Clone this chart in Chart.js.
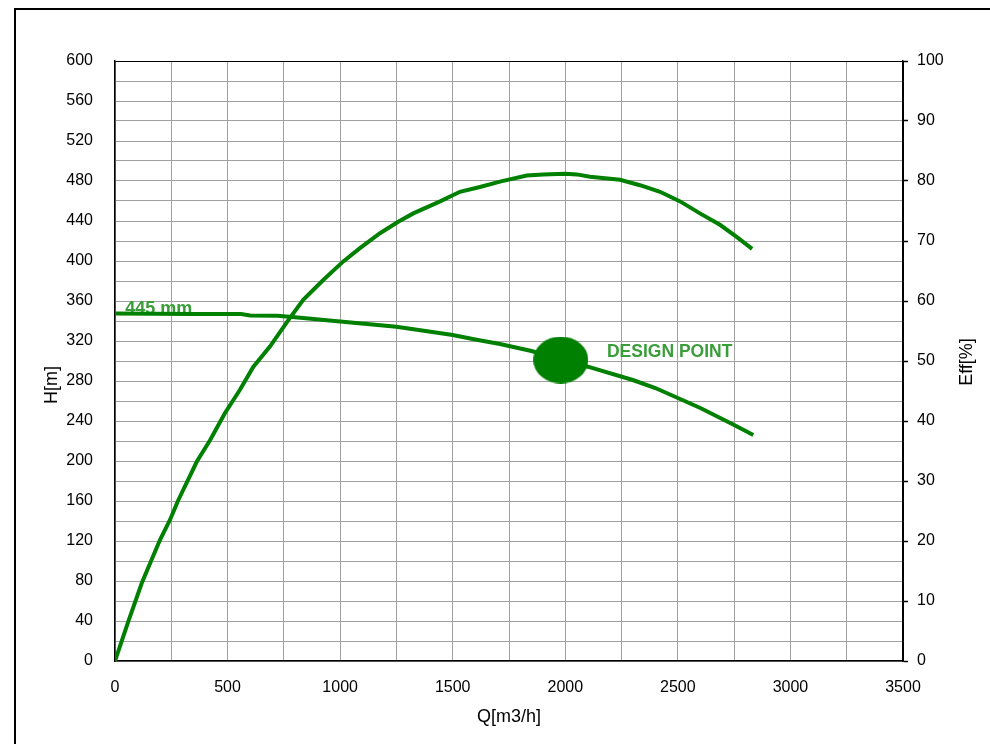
<!DOCTYPE html>
<html>
<head>
<meta charset="utf-8">
<title>Pump curve</title>
<script src="https://cdn.jsdelivr.net/npm/chart.js@4.4.1/dist/chart.umd.min.js"></script>
<style>
  html, body { margin: 0; padding: 0; background: #ffffff; }
  canvas { display: block; }
</style>
</head>
<body>
<canvas id="pump" width="990" height="744"></canvas>
<script>
// Head curve for the 445 mm impeller: flow [m3/h] and head [m]
const headFlow = [0, 350, 560, 600, 720, 800, 1000, 1250, 1500, 1600, 1710, 1850, 1980, 2100, 2300, 2400, 2510, 2600, 2750, 2835];
const headValues = [347.5, 347, 347, 345.5, 345.3, 343.7, 339.5, 334.3, 326, 321.5, 317, 310, 301, 294.3, 281, 273, 262, 253, 236, 226];

// Efficiency curve: flow [m3/h] and efficiency [%]
const effFlow = [0, 60, 119, 200, 244, 281, 363, 422, 488, 555, 614, 688, 770, 836, 925, 1014, 1088, 1177, 1258, 1325, 1444, 1532, 1621, 1710, 1829, 1902, 2000, 2051, 2110, 2243, 2332, 2421, 2510, 2598, 2687, 2761, 2830];
const effValues = [0, 6.7, 13, 20.2, 23.5, 26.8, 33.2, 36.8, 41.3, 45.2, 49, 52.4, 56.8, 60.2, 63.5, 66.6, 68.8, 71.3, 73.2, 74.6, 76.6, 78.2, 79, 79.9, 80.9, 81.1, 81.2, 81.1, 80.7, 80.2, 79.3, 78.2, 76.6, 74.6, 72.7, 70.7, 68.7];

// Duty point
const designFlow = [1980];
const designHead = [301];

// Axis ranges and tick steps
const flowRange = [0, 3500];
const flowStep = 250;
const flowLabelStep = 500;
const headRange = [0, 600];
const headStep = 20;
const headLabelStep = 40;
const effRange = [0, 100];
const effStep = 10;

const impellerLabel = '445 mm';
const designLabel = 'DESIGN POINT';

const GREEN = '#008000';
const TEXT_GREEN = '#3a9d3a';
const GRID = '#a0a0a0';
const FONT = '"Liberation Sans", Arial, sans-serif';

const toPoints = (xs, ys) => xs.map((x, i) => ({ x: x, y: ys[i] }));

// Filled ellipse used as the marker for the duty point
function ellipseMarker(w, h, color) {
  const c = document.createElement('canvas');
  c.width = w; c.height = h;
  const g = c.getContext('2d');
  g.fillStyle = color;
  g.beginPath();
  g.ellipse(w / 2, h / 2, w / 2, h / 2, 0, 0, Math.PI * 2);
  g.fill();
  return c;
}

const framePlugin = {
  id: 'frame',
  beforeDatasetsDraw(chart) {
    const { ctx, scales } = chart;
    ctx.save();
    ctx.font = 'bold 18px ' + FONT;
    ctx.fillStyle = TEXT_GREEN;
    ctx.textBaseline = 'alphabetic';
    ctx.textAlign = 'left';
    ctx.fillText(impellerLabel, scales.x.getPixelForValue(45), scales.y.getPixelForValue(347));
    ctx.restore();
  },
  afterDraw(chart) {
    const { ctx, chartArea: a, scales } = chart;
    ctx.save();
    // Outer frame
    ctx.strokeStyle = '#000000';
    ctx.lineWidth = 2;
    ctx.beginPath();
    ctx.moveTo(15, 744);
    ctx.lineTo(15, 9);
    ctx.lineTo(990, 9);
    ctx.stroke();

    // Design point caption
    ctx.font = 'bold 17.5px ' + FONT;
    ctx.fillStyle = TEXT_GREEN;
    ctx.textAlign = 'left';
    ctx.textBaseline = 'alphabetic';
    ctx.fillText(designLabel, scales.x.getPixelForValue(2185), scales.y.getPixelForValue(304));

    // Axis titles
    ctx.fillStyle = '#000000';
    ctx.font = '18px ' + FONT;
    ctx.textAlign = 'center';
    ctx.textBaseline = 'middle';
    ctx.fillText('Q[m3/h]', (a.left + a.right) / 2, 717);

    ctx.save();
    ctx.translate(52, 385);
    ctx.rotate(-Math.PI / 2);
    ctx.fillText('H[m]', 0, 0);
    ctx.restore();

    ctx.save();
    ctx.translate(967, 362);
    ctx.rotate(-Math.PI / 2);
    ctx.fillText('Eff[%]', 0, 0);
    ctx.restore();
    ctx.restore();
  }
};

new Chart(document.getElementById('pump'), {
  type: 'line',
  data: {
    datasets: [
      {
        label: 'H',
        data: toPoints(headFlow, headValues),
        yAxisID: 'y',
        borderColor: GREEN,
        borderWidth: 4,
        pointRadius: 0,
        tension: 0,
        order: 2
      },
      {
        label: 'Eff',
        data: toPoints(effFlow, effValues),
        yAxisID: 'y2',
        borderColor: GREEN,
        borderWidth: 4,
        pointRadius: 0,
        tension: 0,
        order: 2
      },
      {
        label: 'Design point',
        data: toPoints(designFlow, designHead),
        yAxisID: 'y',
        showLine: false,
        pointStyle: ellipseMarker(55, 47, GREEN),
        pointRadius: 25,
        order: 1
      }
    ]
  },
  options: {
    responsive: false,
    animation: false,
    devicePixelRatio: 1,
    layout: { padding: { left: 0, top: 61, right: 0, bottom: 0 } },
    plugins: {
      legend: { display: false },
      tooltip: { enabled: false }
    },
    scales: {
      x: {
        type: 'linear',
        position: 'bottom',
        min: flowRange[0],
        max: flowRange[1],
        afterFit(s) { s.height = 83; },
        border: { display: true, color: '#000000', width: 1.5 },
        grid: {
          drawTicks: false,
          color: ctx => (ctx.tick && ctx.tick.value === flowRange[1]) ? '#000000' : GRID,
          lineWidth: 1
        },
        ticks: {
          stepSize: flowStep,
          padding: 17,
          color: '#000000',
          font: { size: 16, family: FONT },
          maxRotation: 0,
          autoSkip: false,
          callback: v => (v % flowLabelStep === 0 ? String(v) : '')
        }
      },
      y: {
        type: 'linear',
        position: 'left',
        min: headRange[0],
        max: headRange[1],
        afterFit(s) { s.width = 115; },
        border: { display: true, color: '#000000', width: 1.5 },
        grid: {
          drawTicks: false,
          color: ctx => (ctx.tick && ctx.tick.value === headRange[1]) ? '#000000' : GRID,
          lineWidth: 1
        },
        ticks: {
          stepSize: headStep,
          padding: 22,
          color: '#000000',
          font: { size: 16, family: FONT },
          autoSkip: false,
          callback: v => (v % headLabelStep === 0 ? String(v) : '')
        }
      },
      y2: {
        type: 'linear',
        position: 'right',
        min: effRange[0],
        max: effRange[1],
        afterFit(s) { s.width = 87; },
        border: { display: true, color: '#000000', width: 1.5 },
        grid: {
          drawOnChartArea: false,
          drawTicks: true,
          tickLength: 5,
          tickColor: '#000000',
          tickWidth: 1.5
        },
        ticks: {
          stepSize: effStep,
          padding: 9,
          color: '#000000',
          font: { size: 16, family: FONT },
          autoSkip: false
        }
      }
    }
  },
  plugins: [framePlugin]
});
</script>
</body>
</html>
